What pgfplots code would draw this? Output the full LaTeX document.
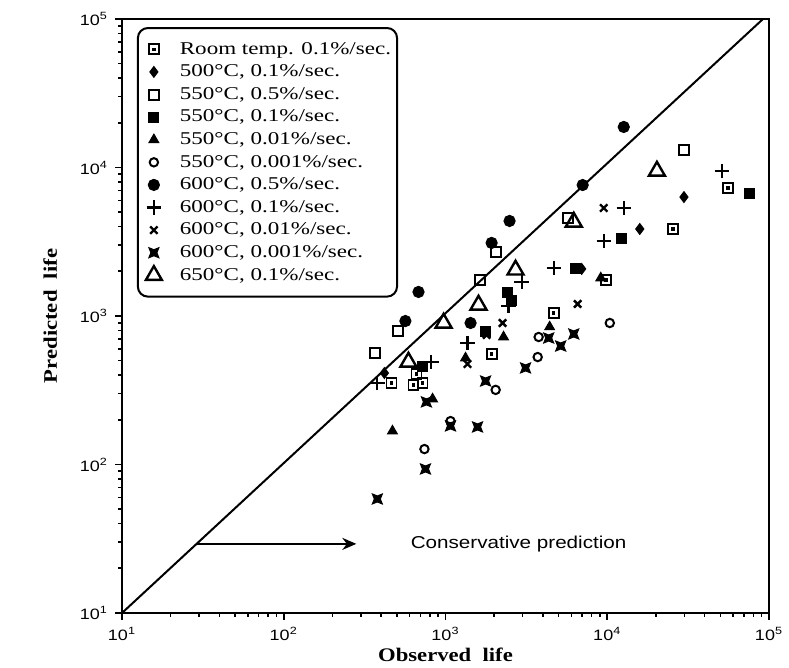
\documentclass[border=0pt]{standalone}
\usepackage{fontspec}
\setmainfont{Liberation Serif}
\newfontfamily\legfont[FakeStretch=1.28]{Liberation Serif}
\newfontfamily\labfont[FakeStretch=1.18]{Liberation Serif}
\newfontfamily\tickfont[FakeStretch=1.2]{Liberation Sans}
\usepackage{pgfplots}
\pgfplotsset{compat=1.18}
\usetikzlibrary{arrows.meta}

% square with a small square inside
\pgfdeclareplotmark{dotsquare}{%
  \pgfpathrectangle{\pgfqpoint{-\pgfplotmarksize}{-\pgfplotmarksize}}{\pgfqpoint{2\pgfplotmarksize}{2\pgfplotmarksize}}%
  \pgfusepathqstroke
  \pgfpathrectangle{\pgfqpoint{-0.35\pgfplotmarksize}{-0.35\pgfplotmarksize}}{\pgfqpoint{0.7\pgfplotmarksize}{0.7\pgfplotmarksize}}%
  \pgfusepathqfill}
% filled bow-tie cross with broad arms
\pgfdeclareplotmark{bowtie}{%
  \pgfpathmoveto{\pgfqpoint{-\pgfplotmarksize}{\pgfplotmarksize}}%
  \pgfpathlineto{\pgfqpoint{0pt}{0.6\pgfplotmarksize}}%
  \pgfpathlineto{\pgfqpoint{\pgfplotmarksize}{\pgfplotmarksize}}%
  \pgfpathlineto{\pgfqpoint{0.6\pgfplotmarksize}{0pt}}%
  \pgfpathlineto{\pgfqpoint{\pgfplotmarksize}{-\pgfplotmarksize}}%
  \pgfpathlineto{\pgfqpoint{0pt}{-0.6\pgfplotmarksize}}%
  \pgfpathlineto{\pgfqpoint{-\pgfplotmarksize}{-\pgfplotmarksize}}%
  \pgfpathlineto{\pgfqpoint{-0.6\pgfplotmarksize}{0pt}}%
  \pgfpathclose
  \pgfusepathqfillstroke}

\begin{document}
\begin{tikzpicture}
\useasboundingbox (-61pt,-27.5pt) rectangle (333.5pt,306.5pt);
\begin{axis}[
  at={(0,0)}, anchor=south west,
  scale only axis, width=323.5pt, height=297pt,
  xmode=log, ymode=log,
  xmin=10, xmax=1e5, ymin=10, ymax=1e5,
  axis line style={line width=1pt},
  tick pos=left, tick align=outside,
  major tick length=3.5pt, minor tick length=2pt,
  tick style={black, line width=0.8pt},
  xtick={10,100,1000,10000,100000},
  ytick={10,100,1000,10000,100000},
  xticklabels={10\textsuperscript{1},10\textsuperscript{2},10\textsuperscript{3},10\textsuperscript{4},10\textsuperscript{5}},
  yticklabels={10\textsuperscript{1},10\textsuperscript{2},10\textsuperscript{3},10\textsuperscript{4},10\textsuperscript{5}},
  ticklabel style={font=\tickfont\fontsize{7.5}{9}\selectfont},
  xlabel={Observed\ \ life},
  ylabel={Predicted\ \ life},
  xlabel style={font=\labfont\bfseries\fontsize{9.6}{11}\selectfont, at={(axis description cs:0.5,-0.07)}, anchor=center},
  ylabel style={font=\labfont\bfseries\fontsize{9.6}{11}\selectfont, at={(axis description cs:-0.111,0.5)}, anchor=center},
  legend cell align=left,
  legend image code/.code={\path[draw=none,fill=none] (-5pt,-3pt) rectangle (5pt,3pt); \draw[sharp corners,#1] plot coordinates {(0pt,0pt)};},
  legend style={at={(0.023,0.9865)}, anchor=north west, draw=black, line width=1pt,
    rounded corners=5pt, fill=white, font=\legfont\fontsize{9}{10}\selectfont,
    inner xsep=3pt, inner ysep=5pt, row sep=0pt, column sep=8pt,
    nodes={inner sep=0pt, text height=8pt, text depth=3.3pt}},
]
% line of perfect agreement
\addplot[black, line width=1pt, forget plot] coordinates {(10,10) (91800,1e5)};
% arrow pointing into the conservative region
\addplot[black, line width=1pt, -{Stealth[length=7pt,width=6pt]}, forget plot] coordinates {(28.7,29.2) (281,29.2)};
\node[font=\tickfont\fontsize{8.6}{10}\selectfont] at (axis cs:2831,29.2) {Conservative\ prediction};

% Room temperature, 0.1%/sec
\addplot[only marks, mark=dotsquare, mark size=2.5pt, line width=0.9pt, black] coordinates {
 (463,354) (661,406) (634,343) (721,354) (1928,555) (4667,1047) (9795,1746) (25470,3855) (55700,7280)};
\addlegendentry{Room temp. 0.1\%/sec.}
% 500 C, 0.1%/sec
\addplot[only marks, mark=diamond*, mark size=2.7pt, line width=0.5pt, black] coordinates {
 (419,413) (6950,2075) (15890,3855) (29800,6324)};
\addlegendentry{500°C, 0.1\%/sec.}
% 550 C, 0.5%/sec
\addplot[only marks, mark=square, mark size=2.5pt, line width=1pt, black] coordinates {
 (369,564) (505,792) (1626,1746) (2042,2698) (5690,4571) (29800,13120)};
\addlegendentry{550°C, 0.5\%/sec.}
% 550 C, 0.1%/sec
\addplot[only marks, mark=square*, mark size=2.5pt, line width=0.5pt, black] coordinates {
 (721,454) (1770,792) (2421,1429) (2564,1262) (6383,2075) (12300,3350) (76200,6637)};
\addlegendentry{550°C, 0.1\%/sec.}
% 550 C, 0.01%/sec
\addplot[only marks, mark=triangle*, mark size=2.8pt, line width=0.5pt, black] coordinates {
 (470,168) (832,276) (1330,521) (2285,722) (4404,844) (9120,1803)};
\addlegendentry{550°C, 0.01\%/sec.}
% 550 C, 0.001%/sec
\addplot[only marks, mark=o, mark size=2.1pt, line width=1pt, black] coordinates {
 (741,127) (1074,196) (2042,318) (3715,529) (3767,722) (10370,897)};
\addlegendentry{550°C, 0.001\%/sec.}
% 600 C, 0.5%/sec
\addplot[only marks, mark=*, mark size=2.8pt, line width=0.5pt, black] coordinates {
 (565,925) (681,1452) (1429,897) (1928,3105) (2489,4365) (7047,7621) (12650,18750)};
\addlegendentry{600°C, 0.5\%/sec.}
% 600 C, 0.1%/sec
\addplot[only marks, mark=+, mark size=3.6pt, line width=1.1pt, black] coordinates {
 (379,354) (818,490) (1368,658) (2455,1167) (2958,1694) (4667,2104) (9510,3199) (12650,5337) (51170,9464)};
\addlegendentry{600°C, 0.1\%/sec.}
% 600 C, 0.01%/sec
\addplot[only marks, mark=x, mark size=2.6pt, line width=1.2pt, black] coordinates {
 (1368,475) (1795,745) (2254,897) (6561,1205) (9510,5337)};
\addlegendentry{600°C, 0.01\%/sec.}
% 600 C, 0.001%/sec
\addplot[only marks, mark=bowtie, mark size=2.5pt, line width=0.5pt, black] coordinates {
 (379,58.6) (752,93.3) (762,264) (1074,182) (1578,179) (1770,365) (3126,447) (4345,711) (5152,628) (6209,757)};
\addlegendentry{600°C, 0.001\%/sec.}
% 650 C, 0.1%/sec
\addplot[only marks, mark=triangle, mark size=4.6pt, line width=1.2pt, black] coordinates {
 (590,490) (973,897) (1600,1186) (2710,2042) (6209,4295) (20280,9464)};
\addlegendentry{650°C, 0.1\%/sec.}
\end{axis}
\end{tikzpicture}
\end{document}
